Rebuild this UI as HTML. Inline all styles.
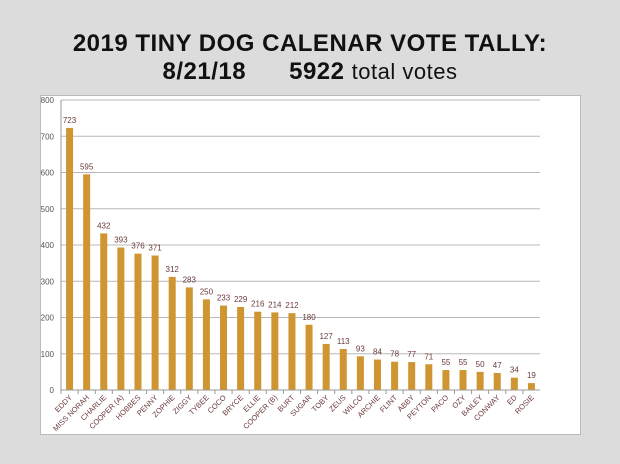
<!DOCTYPE html>
<html><head><meta charset="utf-8"><style>
html,body{margin:0;padding:0;background:#dcdcdc;}
body{width:620px;height:464px;overflow:hidden;position:relative;font-family:"Liberation Sans",sans-serif;}
.t{position:absolute;left:0;width:620px;text-align:center;font-family:"Liberation Sans",sans-serif;font-weight:bold;color:#111;letter-spacing:0.5px;}
</style></head><body>
<div class="t" style="top:30px;font-size:24px;">2019 TINY DOG CALENAR VOTE TALLY:</div>
<div class="t" style="top:58px;font-size:24px;">8/21/18&nbsp;&nbsp;&nbsp;&nbsp;&nbsp;&nbsp;5922 <span style="font-weight:normal;font-size:22px">total votes</span></div>
<svg width="620" height="464" style="position:absolute;left:0;top:0" font-family="Liberation Sans, sans-serif">
<rect x="40.5" y="95.5" width="540" height="339" fill="#fff" stroke="#bbb"/>
<g id="c"></g>
</svg>
<script>
var names=["EDDY","MISS NORAH","CHARLIE","COOPER (A)","HOBBES","PENNY","ZOPHIE","ZIGGY","TYBEE","COCO","BRYCE","ELLIE","COOPER (B)","BURT","SUGAR","TOBY","ZEUS","WILCO","ARCHIE","FLINT","ABBY","PEYTON","PACO","OZY","BAILEY","CONWAY","ED","ROSIE"];
var v=[723,595,432,393,376,371,312,283,250,233,229,216,214,212,180,127,113,93,84,78,77,71,55,55,50,47,34,19];
var L=61,R=540,T=100,B=390,s="";
for(var i=0;i<=8;i++){var y=B-i*(B-T)/8;s+='<line x1="'+L+'" x2="'+R+'" y1="'+y+'" y2="'+y+'" stroke="#b8b8b8"/>';s+='<text x="'+(L-7)+'" y="'+(y+3)+'" font-size="8" text-anchor="end" fill="#555">'+(i*100)+'</text>';}
s+='<line x1="'+L+'" x2="'+L+'" y1="'+T+'" y2="'+B+'" stroke="#999"/>';
var w=(R-L)/28;
for(var i=0;i<28;i++){var cx=L+w*(i+.5),h=v[i]*(B-T)/800;
s+='<rect x="'+(cx-3.5)+'" y="'+(B-h)+'" width="7" height="'+h+'" fill="#cf9530"/>';
s+='<text x="'+cx+'" y="'+(B-h-5)+'" font-size="8" text-anchor="middle" fill="#6b3a3a">'+v[i]+'</text>';
s+='<line x1="'+(L+w*i)+'" x2="'+(L+w*i)+'" y1="'+B+'" y2="'+(B+4)+'" stroke="#999"/>';
s+='<text transform="translate('+(cx+3)+','+(B+8)+') rotate(-45)" font-size="7.5" text-anchor="end" fill="#6b3a3a">'+names[i]+'</text>';}
s+='<line x1="'+L+'" x2="'+R+'" y1="'+B+'" y2="'+B+'" stroke="#999"/>';
document.getElementById("c").innerHTML=s;
</script>
</body></html>
